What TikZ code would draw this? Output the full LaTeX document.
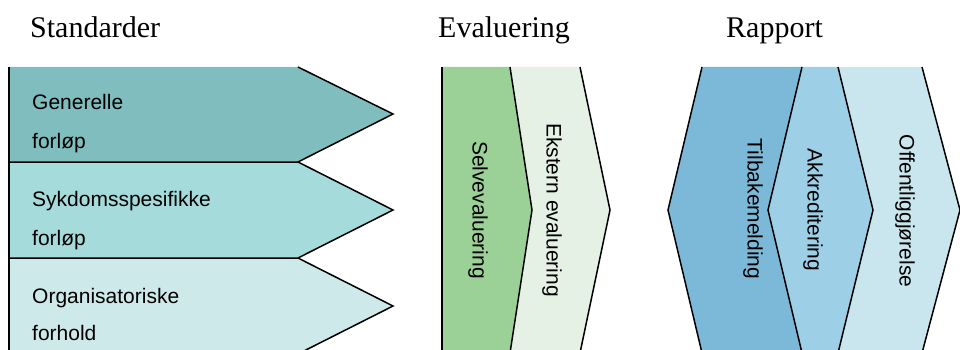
\documentclass[tikz,border=0pt]{standalone}
\usepackage{fontspec}
\setmainfont{Liberation Serif}
\newfontfamily\bodyfont{Liberation Sans}
\begin{document}
\begin{tikzpicture}[x=1pt,y=-1pt,
  edge/.style={line width=1.5pt,black,line join=miter},
  title/.style={anchor=base west,inner sep=0pt,font=\fontsize{30}{34}\selectfont},
  label/.style={anchor=base west,inner sep=0pt,font=\bodyfont\fontsize{21}{25}\selectfont},
  vlabel/.style={rotate=-90,inner sep=0pt,font=\bodyfont\fontsize{21}{25}\selectfont}]
\definecolor{stdA}{HTML}{7FBDBE}
\definecolor{stdB}{HTML}{A5DBDB}
\definecolor{stdC}{HTML}{CDE9EA}
\definecolor{evalA}{HTML}{9BD096}
\definecolor{evalB}{HTML}{E4F1E4}
\definecolor{repA}{HTML}{7CB8D8}
\definecolor{repB}{HTML}{9DCFE7}
\definecolor{repC}{HTML}{C9E6EF}
\useasboundingbox (0,0) rectangle (960,350);
\begin{scope}
\clip (0,0) rectangle (960,350);
% Standarder: three stacked arrows
\fill[stdA] (9,67) -- (298,67) -- (393,114) -- (298,162) -- (9,162) -- cycle;
\fill[stdB] (9,162) -- (298,162) -- (393,210) -- (298,258) -- (9,258) -- cycle;
\fill[stdC] (9,258) -- (298,258) -- (393,306) -- (298,354) -- (9,354) -- cycle;
\draw[edge] (9,67) -- (9,356);
\draw[edge] (298,67) -- (393,114) -- (298,162) -- (9,162);
\draw[edge] (298,162) -- (393,210) -- (298,258) -- (9,258);
\draw[edge] (298,258) -- (393,306) -- (298,354);
% Evaluering
\fill[evalA] (442,67) -- (510,67) -- (532,210) -- (510,353) -- (442,353) -- cycle;
\fill[evalB] (510,67) -- (580,67) -- (610,210) -- (580,353) -- (510,353) -- (532,210) -- cycle;
\draw[edge] (442,67) -- (442,356);
\draw[edge] (510,67) -- (532,210) -- (510,353);
\draw[edge] (580,67) -- (610,210) -- (580,353);
% Rapport
\fill[repA] (702,67) -- (802,67) -- (768,210) -- (802,353) -- (702,353) -- (668,210) -- cycle;
\fill[repB] (802,67) -- (838,67) -- (873,210) -- (838,353) -- (802,353) -- (768,210) -- cycle;
\fill[repC] (838,67) -- (922,67) -- (960,210) -- (922,353) -- (838,353) -- (873,210) -- cycle;
\draw[edge] (702,67) -- (668,210) -- (702,353);
\draw[edge] (802,67) -- (768,210) -- (802,353);
\draw[edge] (838,67) -- (873,210) -- (838,353);
\draw[edge] (922,67) -- (960,210) -- (922,353);
\end{scope}
% column titles
\node[title] (tStd) at (30,38) {Standarder};
\node[title] (tEval) at (438,38) {Evaluering};
\node[title] (tRap) at (726,38) {Rapport};
% standard labels
\node[label] (gen1) at (32,110) {Generelle};
\node[label] (gen2) at (32,148) {forløp};
\node[label] (syk1) at (32,206) {Sykdomsspesifikke};
\node[label] (syk2) at (32,245) {forløp};
\node[label] (org1) at (32,303) {Organisatoriske};
\node[label] (org2) at (32,340) {forhold};
% vertical labels
\node[vlabel] (selv) at (478,210) {Selvevaluering};
\node[vlabel] (ekst) at (552,210) {Ekstern evaluering};
\node[vlabel] (tilb) at (753,209) {Tilbakemelding};
\node[vlabel] (akkr) at (813,210) {Akkreditering};
\node[vlabel] (offe) at (905,211) {Offentliggjørelse};
\end{tikzpicture}
\end{document}
